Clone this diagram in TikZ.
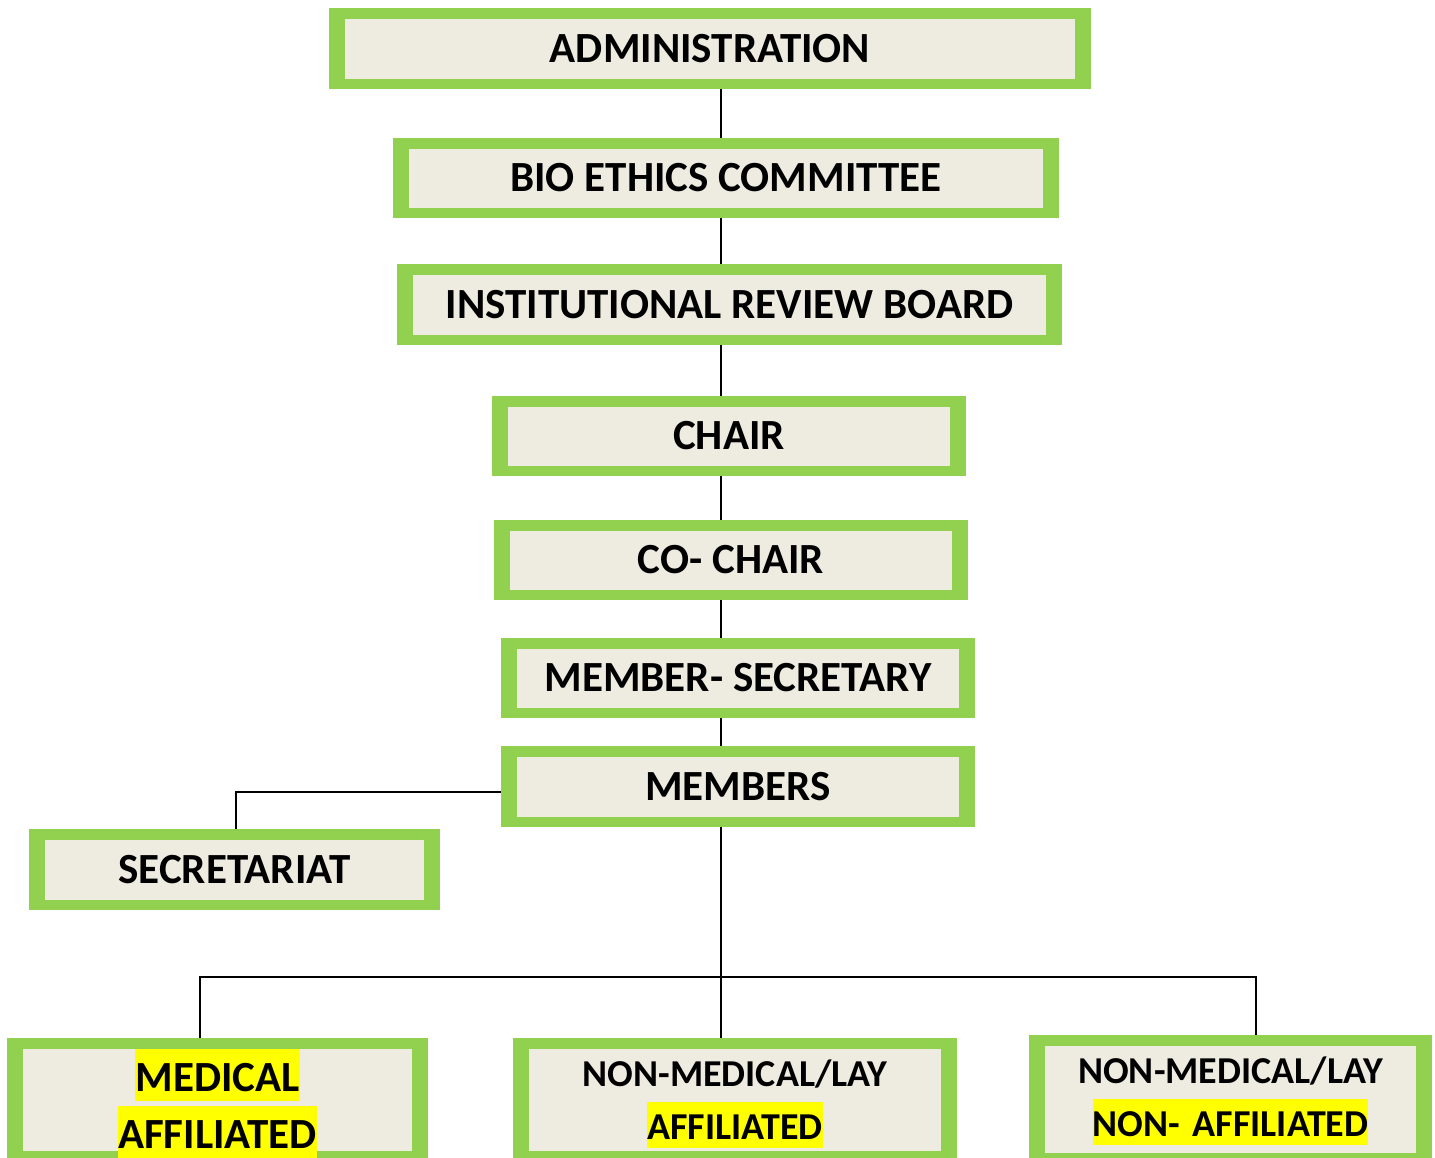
\documentclass[tikz,border=0pt]{standalone}
\usepackage{fontspec}
\setmainfont{Carlito}
\usetikzlibrary{calc}

\definecolor{boxgreen}{HTML}{92D050}
\definecolor{boxtan}{HTML}{EEECE1}
\definecolor{hiyellow}{HTML}{FFFF00}

\newcommand{\hlstrut}{\rule[-0.24em]{0pt}{1.22em}}
\newcommand{\hlmark}[1]{{\setlength{\fboxsep}{0pt}\colorbox{hiyellow}{\hlstrut#1}}}

\tikzset{
    orgbox/.style={rectangle, fill=boxgreen, inner sep=0pt,
        font=\bfseries\fontsize{21.5}{26}\selectfont,
        path picture={\fill[boxtan] ([shift={(8pt,-5.25pt)}]path picture bounding box.north west)
            rectangle ([shift={(-8pt,5.25pt)}]path picture bounding box.south east);}},
    lowbox/.style={orgbox, anchor=north, align=center, inner ysep=5.25pt,
        font=\bfseries\fontsize{19}{26.5}\selectfont},
    link/.style={line width=1pt, black}
}

\begin{document}
\begin{tikzpicture}[x=0.5pt,y=-0.5pt]
                \useasboundingbox (0,0) rectangle (1435,1157);
                \clip (0,0) rectangle (1435,1157);

                \foreach \a/\x/\y/\w/\h/\t in{admin/710/48.5/762/81/ADMINISTRATION,
                        bio/726/178/666/80/BIO ETHICS COMMITTEE,
                        irb/729.5/304.5/665/81/INSTITUTIONAL REVIEW BOARD,
                        chair/729/436/474/80/CHAIR,
                        cochair/731/560/474/80/CO- CHAIR,
                        memsec/738/678/474/80/MEMBER- SECRETARY,
                        members/738/786.5/474/81/MEMBERS,
                        secr/234.5/869.5/411/81/SECRETARIAT}
                {
                    \node[orgbox, minimum width=\w*0.5pt, minimum height=\h*0.5pt] (\a) at (\x,\y) {\t};
                }

                \node[lowbox, font=\bfseries\fontsize{21.5}{28.5}\selectfont, minimum width=210.5pt,
                    text width=190pt, text depth=30pt] (medaff) at (217.5,1038)
                    {\hlmark{MEDICAL}\\\hlmark{AFFILIATED}};
                \node[lowbox, minimum width=222pt, text width=200pt, text depth=32.5pt] (layaff) at (735,1038)
                    {\hlstrut NON-MEDICAL/LAY\\\hlmark{AFFILIATED}};
                \node[lowbox, minimum width=201.5pt, text width=180pt, text depth=35pt] (laynon) at (1230.5,1035)
                    {\hlstrut NON-MEDICAL/LAY\\\hlmark{NON- AFFILIATED}};

                \coordinate (spine) at (721,0);
                \coordinate (secbend) at (236,792);
                \coordinate (busL) at (200,977);
                \coordinate (busR) at (1256,977);

                \foreach \a/\b in{admin/bio,bio/irb,irb/chair,chair/cochair,cochair/memsec,memsec/members,members/layaff}
                {
                    \draw[link] (\a.south -| spine) -- (\b.north -| spine);
                }

                \draw[link] (members.west |- secbend) -- (secbend) -- (secbend |- secr.north);
                \draw[link] (busL |- medaff.north) -- (busL) -- (busR) -- (busR |- laynon.north);
\end{tikzpicture}
\end{document}
